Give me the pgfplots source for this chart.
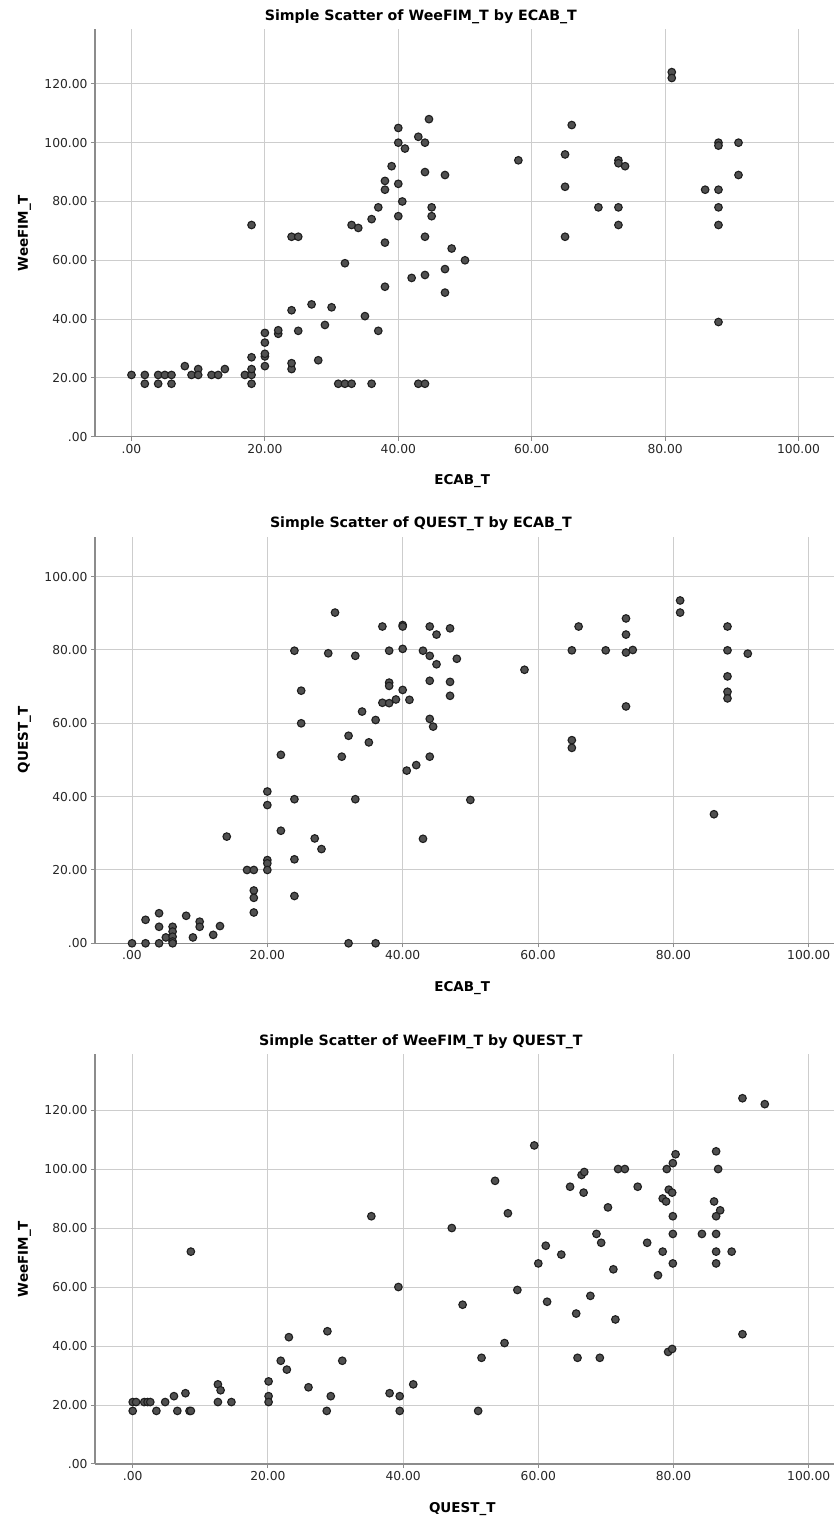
\documentclass[border=0pt]{standalone}
\usepackage{fontspec}
\setmainfont{DejaVu Sans}
\usepackage{pgfplots}
\pgfplotsset{compat=1.18}
\usepackage{pgfplotstable}

\definecolor{gridc}{RGB}{205,205,205}
\definecolor{axisc}{RGB}{140,140,140}
\definecolor{markfill}{RGB}{80,80,80}
\definecolor{markdraw}{RGB}{30,30,30}

\pgfplotstableread{
x y
0 21
2 21
2 18
4 21
4 18
5 21
6 21
6 18
8 24
9 21
10 23
10 21
12 21
13 21
14 23
17 21
18 21
18 23
18 27
18 18
18 72
20 24
20 27.3
20 28.2
20 32
20 35.3
22 35
22 36.2
24 23
24 25
24 43
24 68
25 68
25 36
27 45
28 26
29 38
30 44
31 18
32 18
33 18
32 59
33 72
34 71
35 41
36 74
36 18
37 78
37 36
38 87
38 84
38 66
38 51
39 92
40 105
40 100
40 86
40 75
40.6 80
41 98
42 54
43 102
43 18
44 18
44 100
44 90
44 68
44 55
44.6 108
45 78
45 75
47 89
47 57
47 49
48 64
50 60
58 94
65 96
65 85
65 68
66 106
70 78
73 94
73 93
74 92
73 78
73 72
81 124
81 122
86 84
88 100
88 99
88 84
88 78
88 72
88 39
91 100
91 89
}\dataA

\pgfplotstableread{
x y
0 0
2 6.4
2 0
4 8.2
4 4.5
4 0
5 1.6
6 4.5
6 3.2
6 1.8
6 0.5
6 0
8 7.5
9 1.6
10 5.9
10 4.5
12 2.3
13 4.7
14 29.1
17 20
18 20
18 14.4
18 12.4
18 8.4
20 41.4
20 37.7
20 22.7
20 21.8
20 20
22 51.4
22 30.7
24 79.8
24 39.3
24 22.9
24 12.9
25 68.9
25 60
27 28.6
28 25.7
29 79.1
30 90.2
31 50.9
32 56.6
32 0
33 78.4
33 39.3
34 63.2
35 54.8
36 60.9
36 0
37 86.4
37 65.6
38 79.8
38 71.1
38 70.2
38 65.5
39 66.5
40 86.8
40 86.4
40 80.3
40 69.1
40.6 47.1
41 66.4
42 48.6
43 79.8
43 28.5
44 86.4
44 78.4
44 71.6
44 61.2
44 50.9
44.5 59.1
45 84.2
45 76.1
47 85.9
47 71.3
47 67.5
48 77.6
50 39.1
58 74.6
65 79.9
65 55.4
65 53.3
66 86.4
70 79.9
73 88.6
73 84.2
73 79.3
74 80
73 64.6
81 93.5
81 90.2
86 35.2
88 86.4
88 79.9
88 72.8
88 68.6
88 66.8
91 79
}\dataB

\pgfplotstableread{
x y
0 21
0 18
0.5 21
1.7 21
2.2 21
2.6 21
3.5 18
4.8 21
6.1 23
6.6 18
7.8 24
8.4 18
8.6 18
8.6 72
12.6 27
13 25
12.6 21
14.6 21
20.1 28
20.1 23
20.1 21
21.9 35
22.8 32
23.1 43
26 26
28.7 18
28.8 45
29.3 23
31 35
35.3 84
38 24
39.3 60
39.5 23
39.5 18
41.5 27
47.2 80
48.8 54
51.1 18
51.6 36
53.6 96
55 41
55.5 85
56.9 59
59.4 108
60 68
61.1 74
61.3 55
63.4 71
64.7 94
65.6 51
65.8 36
66.4 98
66.8 99
66.7 92
67.7 57
68.6 78
69.3 75
69.1 36
70.3 87
71.1 66
71.4 49
71.8 100
72.8 100
74.7 94
76.1 75
77.7 64
78.4 90
78.4 72
78.9 89
79 100
79.3 93
79.8 92
79.9 102
79.9 84
79.9 78
79.9 68
79.2 38
79.8 39
80.3 105
84.2 78
86 89
86.3 106
86.6 100
86.9 86
86.3 84
86.3 78
86.3 72
86.3 68
88.6 72
90.2 124
90.2 44
93.5 122
}\dataC

\pgfplotsset{spss/.style={
  scale only axis, width=739pt, anchor=south west,
  axis x line*=bottom, axis y line*=left,
  axis line style={-, axisc, line width=1.2pt},
  grid=major, grid style={gridc, line width=1pt},
  tick align=outside, major tick length=4pt, tick style={axisc, line width=1pt},
  xtick={0,20,40,60,80,100},
  xticklabels={.00,20.00,40.00,60.00,80.00,100.00},
  tick label style={font=\fontsize{12.3}{14}\selectfont, text=black!85},
  title style={at={(0.441,1)}, anchor=base, yshift=3pt, font=\bfseries\fontsize{14.2}{16}\selectfont},
  xlabel style={at={(0.497,0)}, anchor=base, yshift=-48pt, font=\bfseries\fontsize{13.5}{16}\selectfont},
  ylabel style={at={(-0.0907,0.5)}, anchor=base, rotate=0, font=\bfseries\fontsize{13.5}{16}\selectfont},
  clip=false,
}}
\tikzset{pts/.style={only marks, mark=*, mark size=3.8pt, mark options={fill=markfill, draw=markdraw, line width=1.1pt}}}

\begin{document}
\begin{tikzpicture}
\useasboundingbox (0,0) rectangle (834pt,1520pt);
\begin{axis}[spss, at={(95pt,1083.3pt)}, height=407.2pt,
  xmin=-5.47, xmax=105.32, ymin=0, ymax=138.5,
  ytick={0,20,40,60,80,100,120},
  yticklabels={.00,20.00,40.00,60.00,80.00,100.00,120.00},
  title={Simple Scatter of WeeFIM\_T by ECAB\_T},
  xlabel={ECAB\_T}, ylabel={WeeFIM\_T}]
\addplot[pts] table[x=x,y=y] {\dataA};
\end{axis}
\begin{axis}[spss, at={(95pt,576.7pt)}, height=406.6pt,
  xmin=-5.47, xmax=103.74, ymin=0, ymax=110.9,
  ytick={0,20,40,60,80,100},
  yticklabels={.00,20.00,40.00,60.00,80.00,100.00},
  title={Simple Scatter of QUEST\_T by ECAB\_T},
  xlabel={ECAB\_T}, ylabel={QUEST\_T}]
\addplot[pts] table[x=x,y=y] {\dataB};
\end{axis}
\begin{axis}[spss, at={(95pt,56pt)}, height=409.7pt,
  xmin=-5.58, xmax=103.74, ymin=0, ymax=138.9,
  ytick={0,20,40,60,80,100,120},
  yticklabels={.00,20.00,40.00,60.00,80.00,100.00,120.00},
  title={Simple Scatter of WeeFIM\_T by QUEST\_T},
  xlabel={QUEST\_T}, ylabel={WeeFIM\_T}]
\addplot[pts] table[x=x,y=y] {\dataC};
\end{axis}
\end{tikzpicture}
\end{document}
